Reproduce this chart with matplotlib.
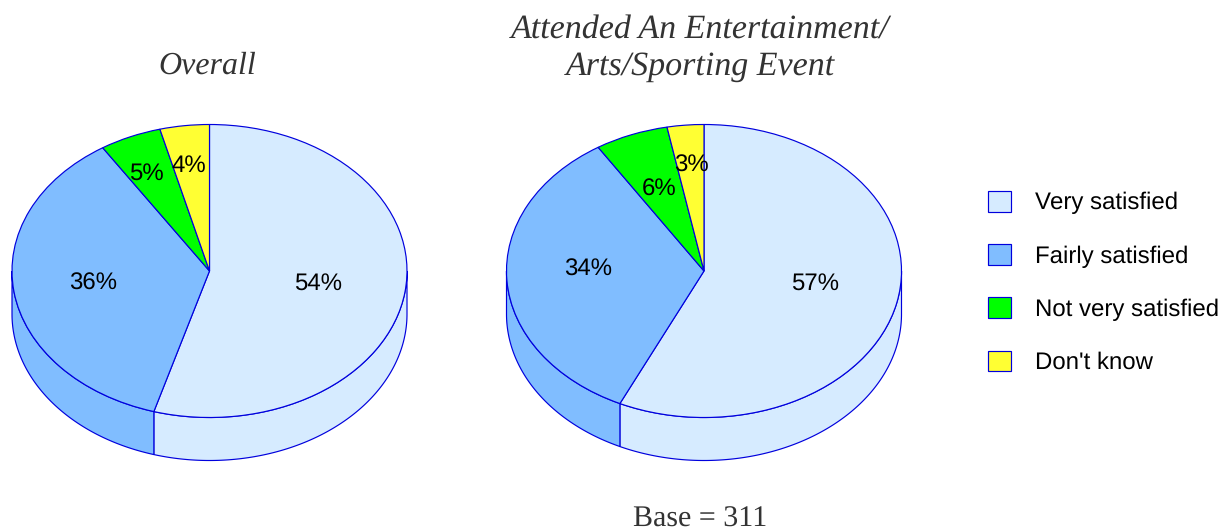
import matplotlib
matplotlib.use("Agg")
import matplotlib.pyplot as plt
from matplotlib.patches import Patch
import numpy as np

#data
categories = ["Very satisfied", "Fairly satisfied", "Not very satisfied", "Don't know"]
overall = [54, 36, 5, 4]
attended = [57, 34, 6, 3]
overall_title = "Overall"
attended_title = "Attended An Entertainment/\nArts/Sporting Event"
base_note = "Base = 311"

#style
colors = ["#D6EBFF", "#80BDFF", "#00FF00", "#FFFF33"]
edge = "#0000DD"
W, H = 1231, 532
rx, ry, depth = 197.5, 146.5, 43
cy = 271

plt.rcParams["font.family"] = ["Liberation Sans", "DejaVu Sans"]
plt.rcParams["text.hinting"] = "no_hinting"
plt.rcParams["text.hinting_factor"] = 1
fig = plt.figure(figsize=(W / 100, H / 100), dpi=100)


def draw_pie(values, cx, label_px):
    ax = fig.add_axes([(cx - rx) / W, (H - cy - ry - depth) / H, 2 * rx / W, (2 * ry + depth) / H])
    d = depth / ry

    #side wall first, only the part of each slice on the front half shows
    fracs = np.cumsum([0] + values) / sum(values) * 360
    for i in range(len(values)):
        t1 = max(fracs[i], 90)
        t2 = min(fracs[i + 1], 270)
        if t2 <= t1:
            continue
        t = np.radians(np.linspace(t1, t2, 200))
        x = np.sin(t)
        y = np.cos(t)
        ax.fill(np.r_[x, x[::-1]], np.r_[y, y[::-1] - d], facecolor=colors[i], edgecolor=edge,
                linewidth=0.85, clip_on=False, zorder=1)

    wedges, _ = ax.pie(values, colors=colors, startangle=90, counterclock=False, radius=1,
                       wedgeprops={"edgecolor": edge, "linewidth": 0.85})
    for w in wedges:
        w.set_zorder(2)
        w.set_clip_on(False)

    ax.set_aspect("auto")
    ax.set_xlim(-1, 1)
    ax.set_ylim(-1 - d, 1)

    for v, (px, py) in zip(values, label_px):
        ax.text((px - cx) / rx, (cy - py) / ry, f"{v}%", ha="center", va="center",
                fontsize=17, color="#000000", zorder=5)


draw_pie(overall, 209.5, [(318, 284), (93.5, 284), (146, 174), (188.5, 166)])
draw_pie(attended, 704, [(815, 284), (588, 270), (659, 190), (691, 166)])

#titles
title_font = {"family": "Liberation Serif", "style": "italic", "color": "#333333"}
fig.text(207 / W, 1 - 66 / H, overall_title, ha="center", va="center", fontsize=23, **title_font)
fig.text(700.5 / W, 1 - 48 / H, attended_title, ha="center", va="center", linespacing=1.3, fontsize=24.3, **title_font)
fig.text(700 / W, 1 - 519 / H, base_note, ha="center", va="center", family="Liberation Serif",
         color="#333333", fontsize=21.3)

#legend
handles = [Patch(facecolor=c, edgecolor=edge, linewidth=0.85) for c in colors]
fig.legend(handles, categories, loc="upper left", bbox_to_anchor=(988 / W, 1 - 191 / H), frameon=False,
           fontsize=17, handlelength=0.97, handleheight=0.97, handletextpad=1.0, labelspacing=1.26,
           borderpad=0, borderaxespad=0)

fig.savefig("out.png", dpi=100)
